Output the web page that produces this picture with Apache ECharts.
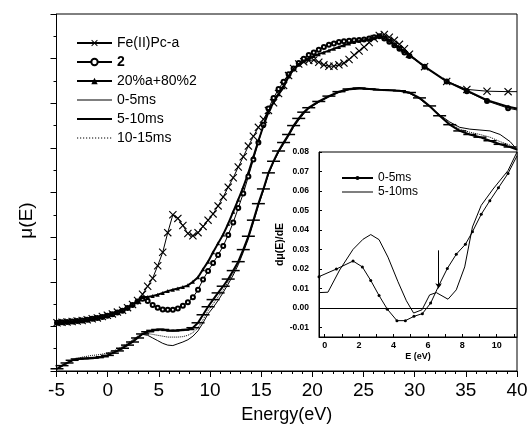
<!DOCTYPE html>
<html><head><meta charset="utf-8">
<script src="https://cdn.jsdelivr.net/npm/echarts@6/dist/echarts.min.js"></script>
<style>html,body{margin:0;padding:0;background:#fff}#c{width:531px;height:434px}</style>
</head><body><div id="c"></div><script>
// ---- main panel: energy grid for the upper (reference) spectra ----
const upE = [-4.95,-4.46,-3.97,-3.47,-2.98,-2.49,-2.00,-1.51,-1.01,-0.52,
  -0.03,0.46,0.95,1.45,1.94,2.43,2.92,3.41,3.91,4.40,
  4.89,5.38,5.87,6.37,6.86,7.35,7.84,8.33,8.83,9.32,
  9.81,10.30,10.79,11.29,11.78,12.27,12.76,13.25,13.75,14.24,
  14.73,15.22,15.71,16.21,16.70,17.19,17.68,18.17,18.67,19.16,
  19.65,20.14,20.63,21.13,21.62,22.11,22.60,23.09,23.59,24.08,
  24.57,25.06,25.55,26.05,26.54,27.03,27.52,28.01,28.51,29.00,
  29.49,30.97,33.13,35.10,37.07,39.13,40];
const feMu = [1.08,1.09,1.10,1.11,1.12,1.13,1.15,1.17,1.19,1.22,
  1.25,1.28,1.32,1.36,1.42,1.49,1.58,1.72,1.90,2.08,
  2.36,2.66,3.10,3.50,3.42,3.26,3.08,3.03,3.10,3.24,
  3.38,3.52,3.70,3.90,4.12,4.33,4.57,4.80,5.04,5.26,
  5.46,5.64,5.84,6.01,6.22,6.40,6.62,6.78,6.88,6.93,
  6.96,6.97,6.92,6.86,6.83,6.83,6.86,6.90,6.98,7.08,
  7.17,7.26,7.36,7.45,7.52,7.54,7.48,7.41,7.32,7.22,
  7.10,6.82,6.49,6.31,6.27,6.26,6.26];
const c2Mu = [1.08,1.09,1.10,1.11,1.12,1.13,1.15,1.17,1.19,1.21,
  1.24,1.27,1.31,1.35,1.41,1.48,1.56,1.62,1.57,1.48,
  1.42,1.38,1.37,1.37,1.40,1.46,1.54,1.65,1.82,2.05,
  2.24,2.42,2.60,2.80,3.05,3.33,3.65,3.98,4.36,4.74,
  5.12,5.52,5.88,6.12,6.32,6.48,6.65,6.78,6.90,7.00,
  7.08,7.14,7.20,7.26,7.31,7.34,7.37,7.39,7.40,7.41,
  7.42,7.43,7.45,7.48,7.50,7.45,7.38,7.30,7.22,7.14,
  7.06,6.82,6.49,6.27,6.05,5.89,5.85];
const mixMu = [1.08,1.09,1.10,1.11,1.12,1.13,1.15,1.17,1.19,1.21,
  1.24,1.27,1.31,1.35,1.41,1.48,1.57,1.66,1.66,1.68,
  1.71,1.75,1.79,1.82,1.85,1.88,1.92,2.00,2.10,2.28,
  2.45,2.66,2.86,3.06,3.30,3.57,3.84,4.12,4.44,4.80,
  5.16,5.49,5.80,6.02,6.20,6.36,6.60,6.76,6.86,6.94,
  7.00,7.06,7.10,7.14,7.18,7.22,7.26,7.30,7.34,7.37,
  7.40,7.42,7.44,7.47,7.50,7.47,7.40,7.32,7.24,7.16,
  7.08,6.82,6.49,6.28,6.07,5.92,5.88];

// ---- main panel: time-resolved spectra ----
const lowE = [-4.95,-4.46,-3.97,-3.47,-2.98,-2.49,-2.00,-1.51,-1.01,-0.52,
  -0.03,0.46,0.95,1.45,1.94,2.43,2.92,3.41,3.91,4.40,
  4.89,5.38,5.87,6.37,6.86,7.35,7.84,8.33,8.83,9.32,
  9.81,10.30,10.79,11.29,11.78,12.27,12.76,13.25,13.75,14.24,
  14.73,15.22,15.71,16.21,16.70,17.19,17.68,18.17,18.67,19.16,
  19.65,
  20.63,21.62,22.60,23.59,24.57,25.55,26.54,27.52,28.51,29.49,
  30.47,31.46,32.44,33.43,34.41,35.39,36.38,37.36,38.35,39.33,
  40];
const t05Mu = [0.05,0.12,0.18,0.23,0.26,0.27,0.28,0.29,0.30,0.32,
  0.35,0.40,0.46,0.53,0.60,0.68,0.77,0.82,0.80,0.74,
  0.68,0.62,0.58,0.57,0.61,0.65,0.70,0.78,0.90,1.08,
  1.28,1.42,1.58,1.76,1.95,2.15,2.38,2.66,2.96,3.32,
  3.70,4.04,4.40,4.68,4.90,5.08,5.26,5.46,5.62,5.76,
  5.88,
  6.02,6.14,6.24,6.30,6.32,6.32,6.31,6.30,6.28,6.22,
  6.10,5.92,5.74,5.58,5.46,5.42,5.40,5.38,5.30,5.14,
  4.96];
const t510Mu = [0.05,0.12,0.18,0.24,0.27,0.28,0.28,0.29,0.30,0.32,
  0.35,0.40,0.45,0.51,0.58,0.65,0.74,0.83,0.88,0.91,
  0.93,0.93,0.91,0.90,0.91,0.92,0.93,0.97,1.08,1.26,
  1.44,1.60,1.75,1.90,2.06,2.25,2.45,2.72,3.02,3.38,
  3.75,4.08,4.44,4.70,4.93,5.12,5.30,5.50,5.66,5.80,
  5.90,
  6.04,6.16,6.26,6.32,6.34,6.32,6.30,6.29,6.28,6.24,
  6.12,5.94,5.72,5.52,5.38,5.30,5.24,5.16,5.08,5.02,
  4.96];
const t1015Mu = [0.04,0.10,0.16,0.22,0.28,0.31,0.33,0.35,0.36,0.38,
  0.40,0.44,0.49,0.55,0.62,0.70,0.78,0.84,0.84,0.82,
  0.80,0.78,0.76,0.76,0.76,0.77,0.80,0.86,0.97,1.15,
  1.35,1.50,1.66,1.82,2.00,2.20,2.42,2.70,3.00,3.36,
  3.73,4.06,4.42,4.69,4.92,5.10,5.28,5.48,5.64,5.78,
  5.89,
  6.03,6.15,6.25,6.31,6.33,6.32,6.30,6.29,6.27,6.23,
  6.11,5.93,5.73,5.55,5.42,5.35,5.30,5.24,5.14,5.06,
  4.96];

// ---- inset: derivative dmu/dE ----
const in05E = [-0.33,0.68,1.65,2.19,2.68,3.16,3.64,4.20,4.69,5.19,5.68,6.16,6.65,7.13,7.65,8.18,8.59,9.10,9.60,10.10,10.66,11.18];
const in05  = [0.016,0.0199,0.024,0.021,0.014,0.0063,-0.0007,-0.0066,-0.0066,-0.0044,-0.003,0.0024,0.0117,0.0202,0.0275,0.0326,0.039,0.048,0.055,0.0616,0.069,0.078];
const in510E = [-0.33,0.19,0.87,1.65,2.23,2.68,3.16,3.68,4.26,4.75,5.17,5.66,6.10,6.49,7.17,7.65,8.14,8.59,9.10,9.79,10.66,11.18];
const in510  = [0.0078,0.008,0.0194,0.030,0.0352,0.0376,0.035,0.026,0.0134,0.0036,-0.0027,-0.001,0.0066,0.0078,0.0044,0.0092,0.021,0.0415,0.0526,0.061,0.0705,0.08];
const arrowE = 6.62, arrowFrom = 0.0295, arrowTo = 0.010;

const insetYLabels = [-0.01,0,0.01,0.02,0.03,0.04,0.05,0.06,0.07,0.08];
const insetXLabels = [0,2,4,6,8,10];
const insetXTicks = [0,1,2,3,4,5,6,7,8,9,10,11];

const FONT = '"Liberation Sans", Arial, sans-serif';
const K = '#000';
const xSym = 'path://M0,1L1,0L5,4L9,0L10,1L6,5L10,9L9,10L5,6L1,10L0,9L4,5Z';
const pts = (xs, ys) => xs.map((x, i) => [x, ys[i]]);
const lastNoSym = arr => arr.map((p, i) => i === arr.length - 1 ? {value: p, symbol: 'none'} : p);

// legend line icons (plain lines, no symbol); tiny corner anchors keep the box size
function lineIcon(w, h, thick) {
  const y = h / 2 - thick / 2;
  return 'path://M0,0h0.01v0.01h-0.01Z M' + (w - 0.01) + ',' + (h - 0.01) + 'h0.01v0.01h-0.01Z M0,' + y + 'h' + w + 'v' + thick + 'h-' + w + 'Z';
}
function dotIcon(w, h) {
  let p = 'path://M0,0h0.01v0.01h-0.01Z M' + (w - 0.01) + ',' + (h - 0.01) + 'h0.01v0.01h-0.01Z';
  const y = h / 2 - 0.5;
  for (let x = 0; x < w - 1; x += 3) p += ' M' + x + ',' + y + 'h1.2v1h-1.2Z';
  return p;
}

const chart = echarts.init(document.getElementById('c'), null, {renderer: 'canvas'});
chart.setOption({
  animation: false,
  backgroundColor: '#fff',
  textStyle: {fontFamily: FONT},
  grid: [
    {left: 56.5, right: 14, top: 14, bottom: 63, show: true, borderColor: K, borderWidth: 1, backgroundColor: 'transparent'},
    {left: 319, right: 14, top: 152, bottom: 97, show: true, borderColor: K, borderWidth: 1, backgroundColor: '#fff'}
  ],
  xAxis: [
    {type: 'value', gridIndex: 0, min: -5, max: 40, interval: 5,
     axisLine: {onZero: false, lineStyle: {color: K, width: 1}},
     axisTick: {length: 6, lineStyle: {color: K}},
     minorTick: {show: true, splitNumber: 5, length: 3, lineStyle: {color: K}},
     splitLine: {show: false},
     axisLabel: {fontSize: 19, color: K, margin: 10, fontFamily: FONT},
     name: 'Energy(eV)', nameLocation: 'middle', nameGap: 35,
     nameTextStyle: {fontSize: 18, color: K, fontFamily: FONT}},
    {type: 'value', gridIndex: 1, min: -0.33, max: 11.18,
     axisLine: {onZero: false, lineStyle: {color: K, width: 1}},
     axisTick: {inside: true, length: 3, lineStyle: {color: K}, customValues: insetXTicks},
     splitLine: {show: false},
     axisLabel: {fontSize: 9, fontWeight: 'bold', color: K, margin: 4, customValues: insetXLabels, fontFamily: FONT},
     name: 'E (eV)', nameLocation: 'middle', nameGap: 15,
     nameTextStyle: {fontSize: 9, fontWeight: 'bold', color: K, fontFamily: FONT}}
  ],
  yAxis: [
    {type: 'value', gridIndex: 0, min: 0, max: 8, interval: 1,
     axisLine: {show: true, onZero: false, lineStyle: {color: K, width: 1}},
     axisTick: {show: true, length: 6, lineStyle: {color: K}},
     minorTick: {show: true, splitNumber: 2, length: 3, lineStyle: {color: K}},
     splitLine: {show: false},
     axisLabel: {show: false},
     name: 'μ(E)', nameLocation: 'middle', nameGap: 20,
     nameTextStyle: {fontSize: 19, color: K, fontFamily: FONT, padding: [0, 56, 0, 0]}},
    {type: 'value', gridIndex: 1, min: -0.015, max: 0.08,
     axisLine: {show: true, onZero: false, lineStyle: {color: K, width: 1}},
     axisTick: {show: true, inside: true, length: 3, lineStyle: {color: K}, customValues: insetYLabels},
     splitLine: {show: false},
     axisLabel: {fontSize: 8.5, fontWeight: 'bold', color: K, margin: 10, customValues: insetYLabels,
                 formatter: v => Number(v).toFixed(2), fontFamily: FONT},
     name: 'dμ(E)/dE', nameLocation: 'middle', nameGap: 28,
     nameTextStyle: {fontSize: 10.5, fontWeight: 'bold', color: K, fontFamily: FONT}}
  ],
  legend: [
    {orient: 'vertical', left: 76, top: 36, padding: 0, itemWidth: 35, itemHeight: 8, itemGap: 5, selectedMode: false,
     textStyle: {fontSize: 14, color: K, fontFamily: FONT,
                 rich: {b: {fontWeight: 'bold', fontSize: 14, color: K, fontFamily: FONT}}},
     formatter: n => n === '2' ? '{b|2}' : n,
     data: [{name: 'Fe(II)Pc-a'}, {name: '2'}, {name: '20%a+80%2'},
            {name: '0-5ms', icon: lineIcon(35, 8, 1)},
            {name: '5-10ms', icon: lineIcon(35, 8, 2)},
            {name: '10-15ms', icon: dotIcon(35, 8)}]},
    {orient: 'vertical', left: 341, top: 172, padding: 0, itemWidth: 31, itemHeight: 5, itemGap: 2, selectedMode: false,
     textStyle: {fontSize: 12, color: K, fontFamily: FONT},
     formatter: n => n.replace('inset ', ''),
     data: [{name: 'inset 0-5ms'}, {name: 'inset 5-10ms', icon: lineIcon(31, 5, 1)}]}
  ],
  series: [
    {name: 'Fe(II)Pc-a', type: 'line', xAxisIndex: 0, yAxisIndex: 0, data: lastNoSym(pts(upE, feMu)),
     symbol: xSym, symbolSize: 8, lineStyle: {color: K, width: 1}, itemStyle: {color: K}, z: 4},
    {name: '2', type: 'line', xAxisIndex: 0, yAxisIndex: 0, data: lastNoSym(pts(upE, c2Mu)),
     symbol: 'emptyCircle', symbolSize: 4, lineStyle: {color: K, width: 1},
     itemStyle: {color: K, borderColor: K, borderWidth: 0.7}, z: 3},
    {name: '20%a+80%2', type: 'line', xAxisIndex: 0, yAxisIndex: 0, data: lastNoSym(pts(upE, mixMu)),
     symbol: 'triangle', symbolSize: 4, lineStyle: {color: K, width: 2}, itemStyle: {color: K}, z: 3},
    {name: '0-5ms', type: 'line', xAxisIndex: 0, yAxisIndex: 0, data: pts(lowE, t05Mu),
     symbol: 'none', lineStyle: {color: K, width: 1}, itemStyle: {color: K}},
    {name: '5-10ms', type: 'line', xAxisIndex: 0, yAxisIndex: 0, data: lastNoSym(pts(lowE, t510Mu)),
     symbol: 'rect', symbolSize: [13, 1.5], lineStyle: {color: K, width: 2}, itemStyle: {color: K}},
    {name: '10-15ms', type: 'line', xAxisIndex: 0, yAxisIndex: 0, data: pts(lowE, t1015Mu),
     symbol: 'none', lineStyle: {color: K, width: 1, type: 'dotted'}, itemStyle: {color: K}},
    {name: 'inset 0-5ms', type: 'line', xAxisIndex: 1, yAxisIndex: 1, data: lastNoSym(pts(in05E, in05)),
     symbol: 'circle', symbolSize: 3, lineStyle: {color: K, width: 1}, itemStyle: {color: K}, z: 5,
     markLine: {silent: true, animation: false, symbol: ['none', 'arrow'], symbolSize: 5,
       label: {show: false}, lineStyle: {color: K, width: 1, type: 'solid'},
       data: [[{coord: [arrowE, arrowFrom]}, {coord: [arrowE, arrowTo]}]]}},
    {name: 'inset 5-10ms', type: 'line', xAxisIndex: 1, yAxisIndex: 1, data: pts(in510E, in510),
     symbol: 'none', lineStyle: {color: K, width: 1}, itemStyle: {color: K}, z: 5,
     markLine: {silent: true, animation: false, symbol: ['none', 'none'],
       label: {show: false}, lineStyle: {color: K, width: 1, type: 'solid'},
       data: [{yAxis: 0}]}}
  ]
});
</script></body></html>
